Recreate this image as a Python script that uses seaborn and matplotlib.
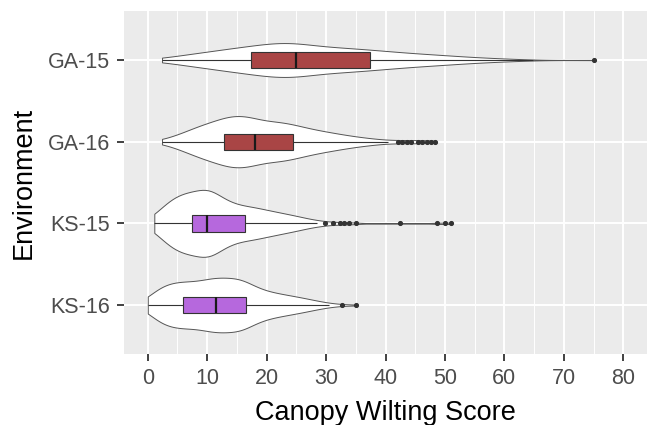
import numpy as np
import pandas as pd
import matplotlib
matplotlib.use("Agg")
import matplotlib.pyplot as plt
import seaborn as sns

# environments, top to bottom
env_levels = ["GA-15", "GA-16", "KS-15", "KS-16"]
box_colours = {"GA-15": "#A94545", "GA-16": "#A94545",
               "KS-15": "#B668DD", "KS-16": "#B668DD"}

ga15_scores = [2.4, 4.9, 7.4, 9.9, 12.4, 14.9, 17.4, 19.9, 22.4, 24.9, 27.4, 29.9,
               32.4, 34.9, 37.4, 39.9, 42.4, 44.9, 47.4, 49.9, 52.4, 54.9, 57.4,
               59.9, 62.4, 64.9, 75.0]
ga15_counts = [5, 10, 15, 20, 25, 30, 34, 40, 44, 44, 35, 32,
               30, 28, 25, 22, 19, 16, 14, 12, 9, 7, 5,
               4, 2, 1, 1]

ga16_scores = [2.4, 4.4, 6.4, 8.4, 10.4, 12.8, 14.8, 16.4, 18.1, 20.4, 22.4, 24.4,
               26.4, 28.4, 30.4, 32.4, 34.4, 36.4, 38.4, 40.4,
               42.1, 42.8, 43.6, 44.3, 45.4, 46.2, 47.0, 47.6, 48.3]
ga16_counts = [2, 8, 15, 22, 31, 41, 35, 30, 34, 31, 29, 26,
               20, 17, 14, 11, 8, 6, 4, 2,
               1, 1, 1, 1, 1, 1, 1, 1, 1]

ks15_scores = [1.1, 2.5, 4.0, 5.5, 7.5, 9.9, 11.5, 13.0, 14.5, 16.3, 18.0, 20.0,
               22.0, 24.0, 26.0, 28.5,
               29.8, 31.1, 32.3, 33.0, 33.8, 35.0, 42.4, 48.7, 50.0, 51.1]
ks15_counts = [8, 21, 31, 42, 58, 68, 32, 28, 26, 24, 25, 22,
               18, 14, 11, 6,
               1, 1, 1, 1, 1, 1, 1, 1, 1, 1]

ks16_scores = [0.0, 2.0, 4.0, 5.9, 8.0, 10.0, 11.4, 13.0, 14.8, 16.5, 18.5, 20.5,
               22.5, 24.5, 26.5, 28.5, 30.5, 32.6, 35.0]
ks16_counts = [9, 29, 31, 34, 36, 31, 29, 34, 35, 33, 24, 19,
               16, 13, 10, 6, 3, 1, 1]

parts = []
for env, sc, ct in [("GA-15", ga15_scores, ga15_counts),
                    ("GA-16", ga16_scores, ga16_counts),
                    ("KS-15", ks15_scores, ks15_counts),
                    ("KS-16", ks16_scores, ks16_counts)]:
    parts.append(pd.DataFrame({"Environment": env,
                               "score": np.repeat(sc, ct)}))
df = pd.concat(parts, ignore_index=True)

sns.set_theme(style="darkgrid", rc={"axes.facecolor": "#EBEBEB"})
plt.rcParams["font.family"] = ["Liberation Sans", "DejaVu Sans"]

fig, ax = plt.subplots(figsize=(6.48, 4.25), dpi=100)
fig.subplots_adjust(left=124/648, right=647/648, bottom=71/425, top=414/425)

sns.violinplot(data=df, x="score", y="Environment", order=env_levels,
               color="white", inner=None, cut=0, density_norm="area",
               width=0.82, linewidth=0.7, linecolor="#555555",
               bw_adjust=0.85, ax=ax)
sns.boxplot(data=df, x="score", y="Environment", order=env_levels,
            hue="Environment", hue_order=env_levels, palette=box_colours,
            saturation=1, width=0.2, showcaps=False, linewidth=0.8,
            linecolor="#333333", fliersize=2.7,
            flierprops=dict(marker="o", markerfacecolor="#333333",
                            markeredgecolor="#333333"),
            medianprops=dict(linewidth=1.6, color="#1a1a1a"),
            legend=False, ax=ax)

ax.set_xlim(-4, 84)
ax.set_ylim(3.6, -0.6)
ax.set_xticks(range(0, 81, 10))
ax.set_xticks(np.arange(5, 80, 10), minor=True)

ax.set_axisbelow(True)
ax.grid(which="major", color="white", linewidth=1.4)
ax.grid(which="minor", axis="x", color="white", linewidth=0.7)
for s in ax.spines.values():
    s.set_visible(False)

ax.tick_params(which="major", bottom=True, left=True, length=5, width=1.3,
               color="#333333", labelsize=15.5, labelcolor="#4D4D4D", pad=5)
ax.tick_params(which="minor", length=0)

ax.set_xlabel("Canopy Wilting Score", fontsize=19.5, color="black", labelpad=8)
ax.set_ylabel("Environment", fontsize=19.5, color="black", labelpad=8)

fig.savefig("out.png", dpi=100)
